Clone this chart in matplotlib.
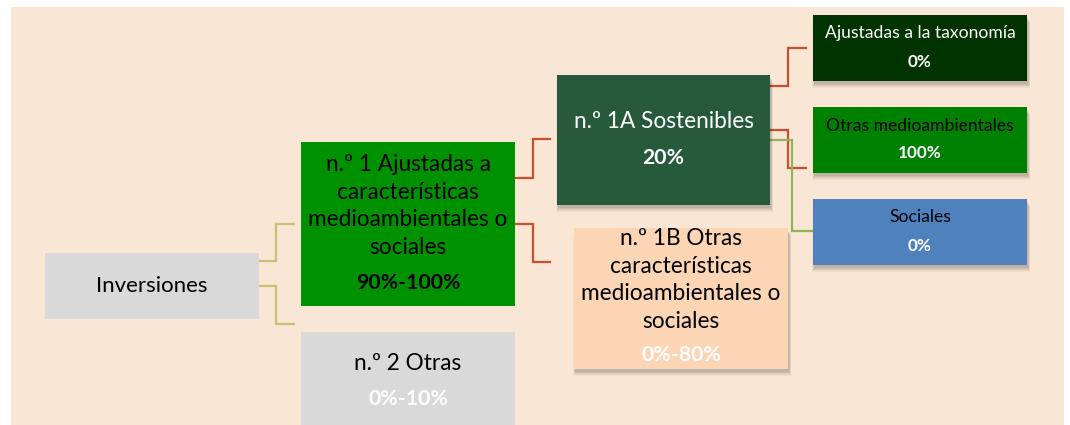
import matplotlib.pyplot as plt
from matplotlib.patches import Rectangle

plt.rcParams['font.family'] = ['Lato', 'DejaVu Sans']

# node texts
labels = [
    "Inversiones",
    "n.º 1 Ajustadas a\ncaracterísticas\nmedioambientales o\nsociales",
    "n.º 2 Otras",
    "n.º 1A Sostenibles",
    "n.º 1B Otras\ncaracterísticas\nmedioambientales o\nsociales",
    "Ajustadas a la taxonomía",
    "Otras medioambientales",
    "Sociales",
]
shares = ["", "90%-100%", "0%-10%", "20%", "0%-80%", "0%", "100%", "0%"]

# layout (pixels): x0, y0, x1, y1, label y, share y
boxes = [
    (45, 253, 259, 319, 286, None),
    (301, 142, 515, 306, 206, 283),
    (301, 332, 515, 430, 363, 399),
    (557, 75, 770, 205, 121, 158),
    (574, 228, 788, 369, 280, 355),
    (813, 15, 1027, 81, 33, 62),
    (813, 107, 1027, 173, 126, 153),
    (813, 199, 1027, 265, 217, 246),
]
fills = ["#d9d9d9", "#009100", "#d9d9d9", "#265a3b", "#fcd5b4",
         "#003300", "#008000", "#4f81bd"]
label_colors = ["black", "black", "black", "white", "black",
                "white", "black", "black"]
share_colors = ["black", "black", "white", "white", "white",
                "white", "white", "white"]
label_sizes = [16, 16.3, 16.3, 16.3, 16.3, 12.6, 12.6, 12.6]
share_sizes = [16, 15.3, 15.3, 15.3, 15.3, 12.3, 12.3, 12.3]
shadow = [False, False, False, True, True, True, True, True]

# connectors: (x start, y start, x elbow, y end, x end, colour)
links = [
    (259, 261, 276, 224, 294, "#cdbf72"),
    (259, 286, 276, 324, 294, "#cdbf72"),
    (515, 178, 533, 139, 550, "#c9502f"),
    (515, 224, 533, 262, 550, "#c9502f"),
    (770, 86, 788, 48, 806, "#c9502f"),
    (770, 130, 788, 168, 806, "#c9502f"),
    (770, 140, 792, 231, 813, "#8fb55a"),
]

fig = plt.figure(figsize=(10.7, 4.25), dpi=100)
ax = fig.add_axes([0, 0, 1, 1])
ax.set_xlim(0, 1070)
ax.set_ylim(425, 0)
ax.axis('off')

ax.add_patch(Rectangle((11, 7), 1053, 420, facecolor="#f9e6d4",
                       edgecolor="none", zorder=0))

for x0, y0, xm, y1, x1, c in links:
    ax.plot([x0, xm, xm, x1], [y0, y0, y1, y1], color=c, lw=1.6,
            solid_joinstyle='miter', zorder=1)

for i, (x0, y0, x1, y1, ly, sy) in enumerate(boxes):
    if shadow[i]:
        for k, a in enumerate([0.06, 0.06, 0.05, 0.04, 0.03]):
            ax.add_patch(Rectangle((x0 + 1 - k * 0.5, y0 + 3 + k),
                                   x1 - x0 + k, y1 - y0,
                                   facecolor="black", alpha=a,
                                   edgecolor="none", zorder=2))
    ax.add_patch(Rectangle((x0, y0), x1 - x0, y1 - y0, facecolor=fills[i],
                           edgecolor="none", zorder=3))
    cx = (x0 + x1) / 2
    ax.text(cx, ly, labels[i], ha='center', va='center',
            color=label_colors[i], fontsize=label_sizes[i],
            linespacing=1.38, zorder=4)
    if sy is not None:
        ax.text(cx, sy, shares[i], ha='center', va='center',
                color=share_colors[i], fontsize=share_sizes[i],
                fontweight='bold', zorder=4)

fig.savefig("out.png", dpi=100, facecolor="white")
